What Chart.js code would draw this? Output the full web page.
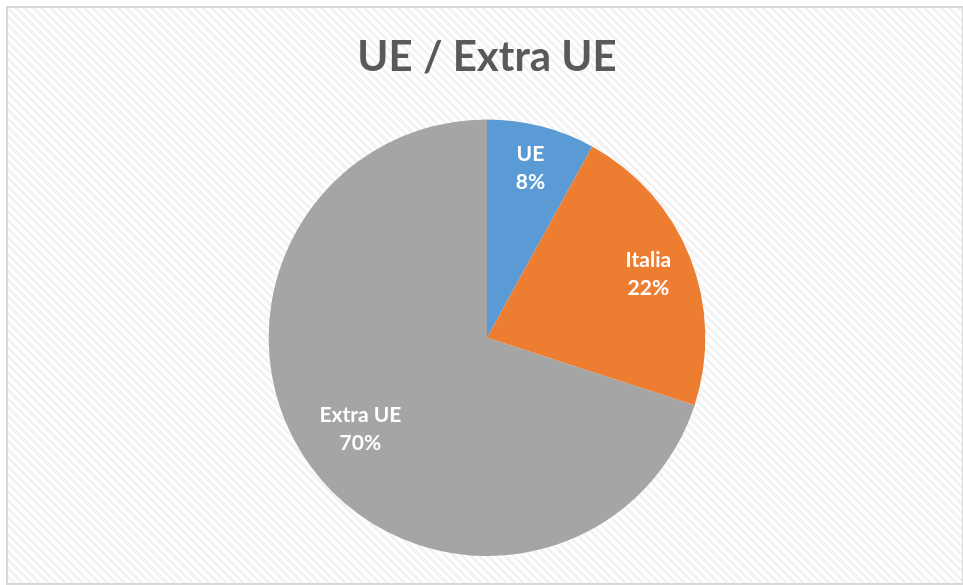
<!DOCTYPE html>
<html>
<head>
<meta charset="utf-8">
<script src="https://cdn.jsdelivr.net/npm/chart.js@4"></script>
<style>
  html, body { margin: 0; padding: 0; background: #fff; }
  #frame {
    position: absolute; left: 6px; top: 6px; width: 954px; height: 575px;
    border: 2px solid #d9d9d9;
    background: repeating-linear-gradient(45deg, #ffffff 0px, #ffffff 3px, #f3f3f3 3px, #f3f3f3 6px);
  }
  #chart { display: block; }
</style>
</head>
<body>
<div id="frame"><canvas id="chart" width="954" height="575"></canvas></div>
<script>
// Data
const labels = ['UE', 'Italia', 'Extra UE'];
const values = [8, 22, 70];
const colors = ['#5B9BD5', '#ED7D31', '#A5A5A5'];
// how far out (fraction of radius) each slice's label sits
const labelRadius = [0.80, 0.795, 0.717];

// Draw "name / pct%" inside each slice
const sliceLabels = {
    id: 'sliceLabels',
    afterDatasetsDraw(chart) {
        const ctx = chart.ctx;
        const meta = chart.getDatasetMeta(0);
        const total = values.reduce((a, b) => a + b, 0);
        ctx.save();
        ctx.fillStyle = '#ffffff';
        ctx.font = 'bold 21px Lato';
        ctx.textAlign = 'center';
        ctx.textBaseline = 'middle';
        meta.data.forEach((arc, i) => {
            const mid = (arc.startAngle + arc.endAngle) / 2;
            const r = arc.outerRadius * labelRadius[i];
            const x = arc.x + Math.cos(mid) * r;
            const y = arc.y + Math.sin(mid) * r;
            const pct = Math.round(values[i] / total * 100) + '%';
            ctx.fillText(labels[i], x, y - 14);
            ctx.fillText(pct, x, y + 14);
        });
        ctx.restore();
    }
};

new Chart(document.getElementById('chart'), {
    type: 'pie',
    data: {
        labels: labels,
        datasets: [{
            data: values,
            backgroundColor: colors,
            borderWidth: 0
        }]
    },
    options: {
        responsive: false,
        animation: false,
        layout: { padding: { left: 4, bottom: 27 } },
        plugins: {
            legend: { display: false },
            tooltip: { enabled: false },
            title: {
                display: true,
                text: 'UE / Extra UE',
                color: '#595959',
                font: { family: 'Lato', size: 42, weight: 'bold' },
                padding: { top: 24, bottom: 37 }
            }
        }
    },
    plugins: [sliceLabels]
});
</script>
</body>
</html>
